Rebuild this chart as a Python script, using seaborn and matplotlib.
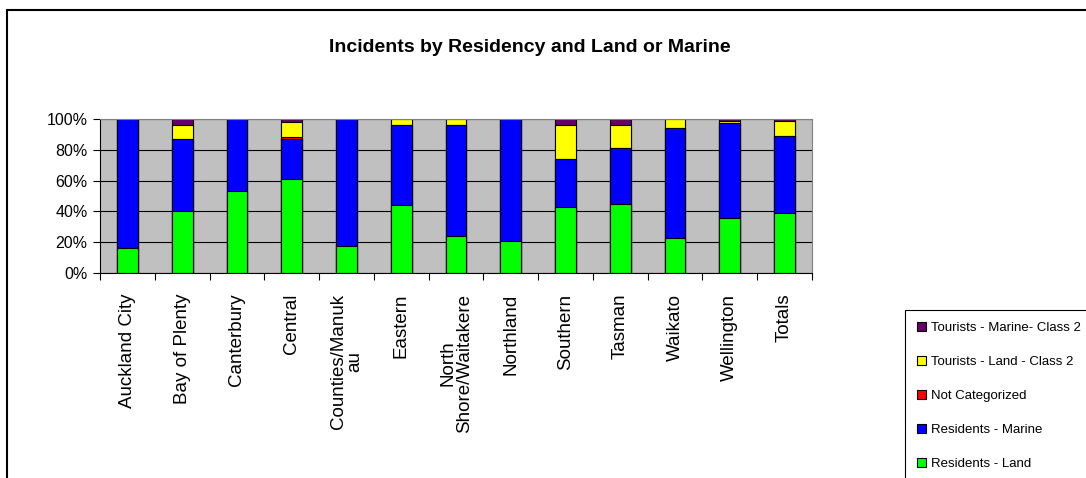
import matplotlib
matplotlib.use("Agg")
import pandas as pd
import matplotlib.pyplot as plt
import seaborn as sns
from matplotlib.lines import Line2D
from matplotlib.patches import Patch

# regions along the x axis (line breaks as in the original sheet)
regions = ["Auckland City", "Bay of Plenty", "Canterbury", "Central",
           "Counties/Manuk\nau", "Eastern", "North\nShore/Waitakere",
           "Northland", "Southern", "Tasman", "Waikato", "Wellington", "Totals"]

# share of incidents in each region (%)
residents_land = [16, 40, 53.5, 61, 17.5, 44, 24, 20.5, 43, 45, 23, 36, 39]
residents_marine = [84, 47, 46.5, 26, 82.5, 52, 72, 79.5, 31, 36, 71, 61.5, 50]
not_categorized = [0, 0, 0, 1, 0, 0, 0, 0, 0, 0, 0, 0, 0]
tourists_land = [0, 9, 0, 10, 0, 4, 4, 0, 22, 15, 6, 1.5, 9.5]
tourists_marine = [0, 4, 0, 2, 0, 0, 0, 0, 4, 4, 0, 1, 1.5]

series = ["Residents - Land", "Residents - Marine", "Not Categorized",
          "Tourists - Land - Class 2", "Tourists - Marine- Class 2"]
colors = ["#00FF00", "#0000FF", "#FF0000", "#FFFF00", "#660066"]

df = pd.DataFrame({
    series[0]: residents_land,
    series[1]: residents_marine,
    series[2]: not_categorized,
    series[3]: tourists_land,
    series[4]: tourists_marine,
}, index=regions)
cum = df.cumsum(axis=1)
cum["region"] = regions

sns.set_style("white")
plt.rcParams['font.family'] = ['Liberation Sans', 'DejaVu Sans']
plt.rcParams['text.color'] = 'black'
plt.rcParams['xtick.color'] = 'black'
plt.rcParams['ytick.color'] = 'black'

fig = plt.figure(figsize=(10.86, 4.78), dpi=100)
ax = fig.add_axes([100 / 1086, 1 - 273 / 478, 712 / 1086, 154 / 478])
ax.set_facecolor("#C0C0C0")

# stacked bars: draw cumulative totals from the top layer down
for name, c in reversed(list(zip(series, colors))):
    sns.barplot(data=cum, x="region", y=name, order=regions, color=c,
                saturation=1, width=0.38, edgecolor="black", linewidth=0.8,
                errorbar=None, ax=ax)

ax.set_xlim(-0.5, len(regions) - 0.5)
ax.set_ylim(0, 100)
ax.set_yticks([0, 20, 40, 60, 80, 100])
ax.set_yticklabels([f"{v}%" for v in range(0, 101, 20)], fontsize=11.5)
ax.yaxis.grid(True, color="black", linewidth=0.8)
ax.set_axisbelow(True)
ax.set_xlabel("")
ax.set_ylabel("")

# labels at bar centres, tick marks between categories
ax.set_xticks(range(len(regions)))
ax.set_xticklabels(regions, rotation=90, fontsize=13.5, va="top",
                   ha="center", multialignment="center", linespacing=0.95)
ax.set_xticks([i - 0.5 for i in range(len(regions) + 1)], minor=True)
ax.tick_params(axis="x", which="major", length=0, pad=15)
ax.tick_params(axis="x", which="minor", length=5, width=0.8, color="black",
               direction="out", bottom=True)
ax.tick_params(axis="y", length=5, width=0.8, color="black", direction="out",
               left=True, pad=4)

for side in ["left", "bottom"]:
    ax.spines[side].set_color("black")
    ax.spines[side].set_linewidth(0.8)
for side in ["top", "right"]:
    ax.spines[side].set_visible(True)
    ax.spines[side].set_color("#808080")
    ax.spines[side].set_linewidth(0.8)

fig.text(530 / 1086, 1 - 47 / 478, "Incidents by Residency and Land or Marine",
         ha="center", va="center", fontsize=14, fontweight="bold",
         color="black")

handles = [Patch(facecolor=c, edgecolor="black", linewidth=0.8, label=n)
           for n, c in zip(series, colors)][::-1]
leg = fig.legend(handles=handles, loc="upper left",
                 bbox_to_anchor=(905 / 1086, 1 - 310 / 478), frameon=True,
                 fancybox=False, edgecolor="black", framealpha=1,
                 borderaxespad=0, handlelength=0.7, handleheight=0.7,
                 handletextpad=0.35, labelspacing=1.65, borderpad=0.9,
                 prop={"size": 9.5})
leg.get_frame().set_linewidth(0.8)

# outer chart frame
y_top = 1 - 10 / 478
x_left = 7 / 1086
fig.add_artist(Line2D([x_left, 1.01], [y_top, y_top], color="black",
                      linewidth=1.5, transform=fig.transFigure))
fig.add_artist(Line2D([x_left, x_left], [-0.01, y_top], color="black",
                      linewidth=1.5, transform=fig.transFigure))

fig.savefig("out.png", dpi=100)
